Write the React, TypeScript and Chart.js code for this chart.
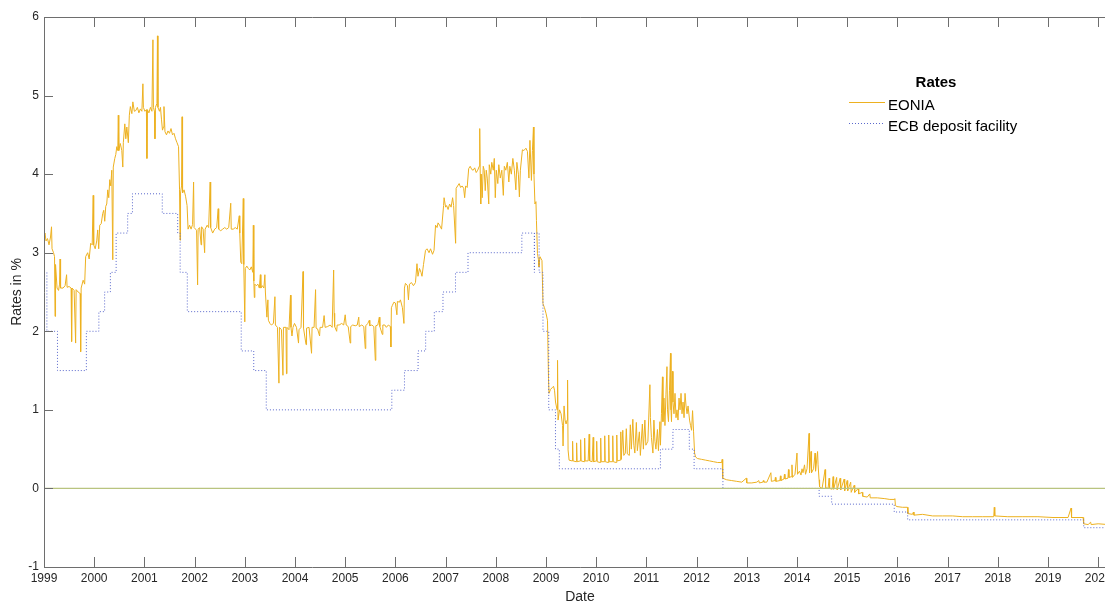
import React, { useEffect, useRef } from "react";
import { Chart, registerables } from "chart.js";

Chart.register(...registerables);

// ---------- data ----------
const yearTicks = [1999, 2000, 2001, 2002, 2003, 2004, 2005, 2006, 2007, 2008, 2009, 2010, 2011, 2012, 2013, 2014, 2015, 2016, 2017, 2018, 2019, 2020];
const rateTicks = [-1, 0, 1, 2, 3, 4, 5, 6];
const X_MIN = 1999;
const X_MAX = 2020.355;

const ecbDates = [
  "1999-01-01", "1999-01-22", "1999-04-09", "1999-11-05", "2000-02-04", "2000-03-17", "2000-04-28",
  "2000-06-09", "2000-09-01", "2000-10-06", "2001-05-11", "2001-08-31", "2001-09-18", "2001-11-09",
  "2002-12-06", "2003-03-07", "2003-06-06", "2005-12-06", "2006-03-08", "2006-06-15", "2006-08-09",
  "2006-10-11", "2006-12-13", "2007-03-14", "2007-06-13", "2008-07-09", "2008-10-08", "2008-10-09",
  "2008-11-12", "2008-12-10", "2009-01-21", "2009-03-11", "2009-04-08", "2011-04-13", "2011-07-13",
  "2011-11-09", "2011-12-14", "2012-07-11", "2014-06-11", "2014-09-10", "2015-12-09", "2016-03-16",
  "2019-09-18", "2020-05-10",
];
const ecbValues = [
  2.75, 2.0, 1.5, 2.0, 2.25, 2.5, 2.75,
  3.25, 3.5, 3.75, 3.5, 3.25, 2.75, 2.25,
  1.75, 1.5, 1.0, 1.25, 1.5, 1.75, 2.0,
  2.25, 2.5, 2.75, 3.0, 3.25, 2.75, 3.25,
  2.75, 2.0, 1.0, 0.5, 0.25, 0.5, 0.75,
  0.5, 0.25, 0.0, -0.1, -0.2, -0.3, -0.4,
  -0.5, -0.5,
];

// EONIA: [decimal year, rate in %]
const eoniaSeries: [number, number][] = [
  [1999.00, 3.20], [1999.02, 3.25], [1999.04, 3.15], [1999.07, 3.18], [1999.10, 3.10], [1999.13, 3.20],
  [1999.15, 3.33], [1999.16, 3.05], [1999.19, 3.00], [1999.21, 2.95], [1999.22, 2.19], [1999.23, 2.85],
  [1999.26, 2.55], [1999.29, 2.52], [1999.31, 2.60], [1999.32, 2.92], [1999.33, 2.55], [1999.38, 2.55],
  [1999.42, 2.58], [1999.45, 2.72], [1999.46, 2.56], [1999.50, 2.57], [1999.54, 2.55], [1999.55, 1.87],
  [1999.56, 2.55], [1999.60, 2.52], [1999.63, 1.85], [1999.64, 2.53], [1999.68, 2.50], [1999.72, 2.48],
  [1999.73, 1.74], [1999.74, 2.55], [1999.78, 2.65], [1999.81, 2.60], [1999.83, 2.95], [1999.87, 3.00],
  [1999.90, 2.92], [1999.93, 3.12], [1999.96, 3.10], [1999.98, 3.73], [1999.99, 3.10],
  [2000.02, 3.05], [2000.05, 3.15], [2000.07, 3.29], [2000.09, 3.05], [2000.11, 3.35], [2000.14, 3.37],
  [2000.17, 3.50], [2000.19, 3.54], [2000.21, 3.40], [2000.23, 3.59], [2000.25, 3.62], [2000.27, 3.80],
  [2000.29, 3.70], [2000.31, 3.93], [2000.33, 3.85], [2000.35, 4.05], [2000.37, 2.91], [2000.38, 4.09],
  [2000.41, 4.20], [2000.43, 4.25], [2000.45, 4.35], [2000.47, 4.30], [2000.48, 4.75], [2000.49, 4.30],
  [2000.52, 4.39], [2000.55, 4.30], [2000.57, 4.09], [2000.58, 4.40], [2000.61, 4.64], [2000.63, 4.45],
  [2000.65, 4.60], [2000.68, 4.40], [2000.70, 4.75], [2000.72, 4.86], [2000.75, 4.77], [2000.77, 4.92],
  [2000.80, 4.80], [2000.83, 4.81], [2000.86, 4.85], [2000.89, 4.78], [2000.92, 4.83], [2000.95, 4.80],
  [2000.97, 5.15], [2000.98, 4.85],
  [2001.01, 4.80], [2001.04, 4.82], [2001.05, 4.20], [2001.06, 4.82], [2001.09, 4.78], [2001.12, 4.85],
  [2001.15, 4.80], [2001.17, 5.71], [2001.18, 4.85], [2001.20, 4.80], [2001.21, 4.45], [2001.22, 4.85],
  [2001.25, 4.90], [2001.26, 5.76], [2001.27, 4.85], [2001.30, 4.80], [2001.32, 4.85], [2001.34, 4.70],
  [2001.36, 4.56], [2001.38, 4.60], [2001.39, 4.86], [2001.41, 4.54], [2001.44, 4.50], [2001.47, 4.55],
  [2001.50, 4.52], [2001.53, 4.58], [2001.56, 4.50], [2001.59, 4.52], [2001.62, 4.45], [2001.65, 4.40],
  [2001.68, 4.35], [2001.70, 3.80], [2001.71, 3.16], [2001.72, 3.76], [2001.74, 3.85], [2001.75, 4.73],
  [2001.76, 3.76], [2001.79, 3.80], [2001.82, 3.72], [2001.85, 3.60], [2001.87, 3.30], [2001.90, 3.35],
  [2001.93, 3.30], [2001.96, 3.36], [2001.98, 3.90], [2001.99, 3.32],
  [2002.02, 3.30], [2002.04, 3.28], [2002.06, 2.59], [2002.07, 3.30], [2002.10, 3.32], [2002.13, 3.10],
  [2002.14, 3.33], [2002.17, 3.30], [2002.20, 3.00], [2002.21, 3.30], [2002.25, 3.35], [2002.28, 3.32],
  [2002.31, 3.90], [2002.32, 3.32], [2002.36, 3.25], [2002.40, 3.30], [2002.44, 3.32], [2002.47, 3.56],
  [2002.48, 3.30], [2002.52, 3.28], [2002.56, 3.30], [2002.60, 3.32], [2002.64, 3.30], [2002.68, 3.32],
  [2002.72, 3.63], [2002.73, 3.30], [2002.77, 3.30], [2002.81, 3.32], [2002.85, 3.30], [2002.89, 3.47],
  [2002.90, 3.25], [2002.92, 2.88], [2002.94, 2.86], [2002.97, 3.69], [2002.98, 2.85],
  [2003.00, 2.12], [2003.01, 2.80], [2003.04, 2.83], [2003.07, 2.80], [2003.10, 2.78], [2003.13, 2.82],
  [2003.16, 2.75], [2003.17, 3.35], [2003.18, 2.64], [2003.19, 2.43], [2003.20, 2.60], [2003.23, 2.58],
  [2003.26, 2.60], [2003.29, 2.55], [2003.31, 2.72], [2003.32, 2.55], [2003.35, 2.58], [2003.38, 2.55],
  [2003.40, 2.72], [2003.41, 2.50], [2003.44, 2.18], [2003.46, 2.40], [2003.47, 2.14], [2003.50, 2.10],
  [2003.53, 2.08], [2003.57, 2.10], [2003.60, 2.44], [2003.61, 2.08], [2003.65, 2.05], [2003.68, 1.34],
  [2003.69, 2.05], [2003.73, 2.02], [2003.76, 1.44], [2003.77, 2.05], [2003.82, 2.05], [2003.83, 1.46],
  [2003.84, 2.05], [2003.88, 2.02], [2003.91, 2.46], [2003.92, 2.05], [2003.94, 1.94], [2003.96, 2.05],
  [2003.99, 2.10],
  [2004.03, 2.05], [2004.07, 1.85], [2004.08, 2.02], [2004.12, 2.05], [2004.16, 2.76], [2004.17, 2.04],
  [2004.22, 1.83], [2004.23, 2.04], [2004.28, 2.05], [2004.33, 1.72], [2004.34, 2.05], [2004.38, 2.05],
  [2004.41, 2.53], [2004.42, 2.04], [2004.45, 2.03], [2004.49, 1.94], [2004.50, 2.05], [2004.55, 2.05],
  [2004.58, 2.20], [2004.60, 2.05], [2004.65, 2.06], [2004.70, 2.08], [2004.74, 2.05], [2004.77, 2.78],
  [2004.78, 2.23], [2004.79, 2.06], [2004.83, 2.00], [2004.84, 2.08], [2004.88, 2.08], [2004.93, 2.10],
  [2004.97, 2.08], [2005.00, 2.21],
  [2005.02, 2.08], [2005.06, 2.06], [2005.10, 1.85], [2005.11, 2.06], [2005.15, 2.08], [2005.20, 2.07],
  [2005.24, 2.08], [2005.27, 2.18], [2005.28, 2.06], [2005.33, 2.08], [2005.37, 2.06], [2005.40, 1.78],
  [2005.41, 2.07], [2005.45, 2.10], [2005.48, 2.14], [2005.49, 2.07], [2005.53, 2.08], [2005.57, 2.06],
  [2005.60, 1.63], [2005.61, 2.07], [2005.65, 2.08], [2005.68, 2.18], [2005.69, 2.06], [2005.74, 1.96],
  [2005.75, 2.08], [2005.79, 2.08], [2005.82, 2.05], [2005.86, 2.08], [2005.90, 2.06], [2005.91, 1.80],
  [2005.92, 2.30], [2005.94, 2.33], [2005.97, 2.37],
  [2006.00, 2.36], [2006.03, 2.21], [2006.04, 2.38], [2006.08, 2.37], [2006.10, 2.40], [2006.14, 2.30],
  [2006.17, 2.10], [2006.18, 2.55], [2006.20, 2.61], [2006.24, 2.58], [2006.26, 2.40], [2006.28, 2.60],
  [2006.32, 2.62], [2006.36, 2.58], [2006.40, 2.62], [2006.43, 2.86], [2006.45, 2.70], [2006.48, 2.80],
  [2006.51, 2.75], [2006.53, 2.70], [2006.56, 2.85], [2006.60, 3.03], [2006.63, 3.05], [2006.67, 3.00],
  [2006.70, 3.05], [2006.74, 2.98], [2006.77, 3.03], [2006.80, 3.35], [2006.83, 3.32], [2006.85, 3.38],
  [2006.88, 3.35], [2006.92, 3.30], [2006.96, 3.60], [2006.97, 3.70],
  [2007.00, 3.58], [2007.02, 3.60], [2007.05, 3.55], [2007.08, 3.62], [2007.11, 3.58], [2007.14, 3.70],
  [2007.16, 3.60], [2007.20, 3.12], [2007.21, 3.82], [2007.24, 3.85], [2007.27, 3.88], [2007.30, 3.83],
  [2007.33, 3.85], [2007.36, 3.82], [2007.38, 3.70], [2007.40, 3.85], [2007.43, 3.83], [2007.46, 4.07],
  [2007.49, 4.10], [2007.52, 4.06], [2007.55, 4.05], [2007.58, 4.08], [2007.61, 4.02], [2007.64, 4.05],
  [2007.67, 4.10], [2007.68, 4.58], [2007.69, 4.00], [2007.70, 3.62], [2007.71, 4.00], [2007.73, 3.70],
  [2007.75, 4.10], [2007.77, 4.05], [2007.79, 3.79], [2007.81, 4.05], [2007.83, 3.95], [2007.86, 3.62],
  [2007.87, 4.12], [2007.90, 4.00], [2007.92, 4.15], [2007.95, 4.05], [2007.97, 4.20], [2007.99, 3.70],
  [2008.01, 4.05], [2008.04, 3.88], [2008.06, 4.12], [2008.09, 3.95], [2008.12, 4.05], [2008.15, 3.73],
  [2008.17, 4.10], [2008.20, 4.05], [2008.23, 4.15], [2008.26, 3.90], [2008.28, 4.10], [2008.31, 4.00],
  [2008.34, 4.20], [2008.37, 4.05], [2008.40, 3.80], [2008.42, 4.15], [2008.45, 4.00], [2008.47, 3.71],
  [2008.49, 4.05], [2008.53, 4.31], [2008.56, 4.30], [2008.60, 4.33], [2008.63, 4.29], [2008.66, 3.95],
  [2008.68, 4.43], [2008.71, 3.92], [2008.73, 4.30], [2008.75, 4.60], [2008.76, 4.00], [2008.78, 3.62],
  [2008.80, 3.65], [2008.81, 3.41], [2008.83, 2.99], [2008.85, 2.91], [2008.86, 2.82], [2008.88, 2.95],
  [2008.92, 2.90], [2008.94, 2.35], [2008.97, 2.30],
  [2009.00, 2.23], [2009.03, 2.14], [2009.05, 1.40], [2009.06, 1.21], [2009.09, 1.26], [2009.12, 1.28],
  [2009.15, 1.30], [2009.17, 1.25], [2009.19, 1.10], [2009.22, 1.00], [2009.23, 1.63], [2009.24, 0.87],
  [2009.27, 1.00], [2009.30, 0.95], [2009.33, 0.80], [2009.34, 0.54], [2009.36, 1.05], [2009.38, 0.87],
  [2009.40, 0.82], [2009.42, 0.87], [2009.43, 1.38], [2009.44, 0.49], [2009.46, 0.36],
  [2009.52, 0.35], [2009.53, 0.60], [2009.54, 0.35], [2009.60, 0.34], [2009.61, 0.58], [2009.62, 0.34],
  [2009.68, 0.35], [2009.69, 0.62], [2009.70, 0.35], [2009.76, 0.34], [2009.77, 0.64], [2009.78, 0.35],
  [2009.84, 0.35], [2009.86, 0.69], [2009.87, 0.35], [2009.92, 0.34], [2009.94, 0.65], [2009.95, 0.34],
  [2010.00, 0.35], [2010.01, 0.60], [2010.02, 0.34], [2010.08, 0.33], [2010.09, 0.64], [2010.10, 0.34],
  [2010.16, 0.34], [2010.17, 0.67], [2010.18, 0.34], [2010.24, 0.33], [2010.25, 0.68], [2010.26, 0.34],
  [2010.32, 0.34], [2010.33, 0.67], [2010.34, 0.34], [2010.40, 0.33], [2010.41, 0.68], [2010.42, 0.35],
  [2010.48, 0.36], [2010.49, 0.72], [2010.50, 0.37], [2010.53, 0.74], [2010.55, 0.42], [2010.58, 0.45],
  [2010.60, 0.76], [2010.62, 0.44], [2010.66, 0.42], [2010.68, 0.81], [2010.70, 0.50], [2010.73, 0.88],
  [2010.75, 0.55], [2010.77, 0.45], [2010.80, 0.84], [2010.82, 0.48], [2010.86, 0.72], [2010.88, 0.42],
  [2010.92, 0.82], [2010.94, 0.50], [2010.97, 0.87], [2010.99, 0.55],
  [2011.03, 0.60], [2011.07, 1.32], [2011.08, 0.90], [2011.10, 0.65], [2011.13, 0.45], [2011.15, 0.87],
  [2011.17, 0.60], [2011.19, 0.50], [2011.22, 0.75], [2011.24, 0.48], [2011.27, 0.85], [2011.28, 0.55],
  [2011.30, 0.95], [2011.32, 1.42], [2011.33, 0.85], [2011.35, 1.15], [2011.37, 0.80], [2011.39, 1.20],
  [2011.41, 1.55], [2011.42, 1.00], [2011.44, 0.85], [2011.46, 1.25], [2011.48, 1.72], [2011.49, 1.00],
  [2011.50, 0.85], [2011.52, 1.49], [2011.53, 1.10], [2011.55, 0.95], [2011.57, 1.21], [2011.59, 0.90],
  [2011.61, 1.00], [2011.63, 0.87], [2011.65, 1.15], [2011.67, 1.00], [2011.69, 1.21], [2011.71, 0.95],
  [2011.73, 1.10], [2011.75, 0.90], [2011.77, 1.21], [2011.79, 1.05], [2011.81, 0.95], [2011.83, 1.05],
  [2011.86, 0.87], [2011.88, 0.80], [2011.90, 0.74], [2011.92, 0.99], [2011.94, 0.72], [2011.96, 0.45],
  [2011.98, 0.40],
  [2012.02, 0.38], [2012.10, 0.37], [2012.18, 0.36], [2012.26, 0.35], [2012.34, 0.34], [2012.42, 0.33],
  [2012.50, 0.33], [2012.51, 0.37], [2012.52, 0.13], [2012.60, 0.11], [2012.70, 0.10], [2012.80, 0.09],
  [2012.90, 0.08], [2012.99, 0.13],
  [2013.00, 0.07], [2013.10, 0.07], [2013.20, 0.08], [2013.24, 0.10], [2013.25, 0.07], [2013.32, 0.08],
  [2013.33, 0.10], [2013.34, 0.08], [2013.40, 0.08], [2013.48, 0.20], [2013.49, 0.09], [2013.56, 0.10],
  [2013.57, 0.14], [2013.58, 0.09], [2013.66, 0.10], [2013.67, 0.16], [2013.68, 0.10], [2013.74, 0.12],
  [2013.75, 0.18], [2013.76, 0.12], [2013.82, 0.13], [2013.83, 0.24], [2013.84, 0.14], [2013.89, 0.15],
  [2013.90, 0.30], [2013.91, 0.14], [2013.96, 0.18],
  [2014.00, 0.45], [2014.01, 0.18], [2014.05, 0.22], [2014.08, 0.17], [2014.10, 0.25], [2014.12, 0.20],
  [2014.15, 0.30], [2014.17, 0.18], [2014.20, 0.25], [2014.24, 0.70], [2014.25, 0.20], [2014.28, 0.47],
  [2014.29, 0.20], [2014.33, 0.25], [2014.36, 0.45], [2014.37, 0.22], [2014.41, 0.47], [2014.42, 0.30],
  [2014.44, 0.11], [2014.45, 0.02], [2014.50, 0.00], [2014.56, 0.24], [2014.57, 0.01], [2014.62, 0.00],
  [2014.64, 0.13], [2014.65, 0.00], [2014.70, -0.01], [2014.72, 0.15], [2014.73, -0.01], [2014.79, 0.14],
  [2014.80, -0.02], [2014.86, 0.13], [2014.87, -0.02], [2014.94, 0.12], [2014.95, -0.03],
  [2015.00, 0.10], [2015.01, -0.03], [2015.07, 0.08], [2015.08, -0.05], [2015.14, 0.04], [2015.15, -0.05],
  [2015.22, 0.00], [2015.23, -0.07], [2015.30, -0.05], [2015.31, -0.10], [2015.40, -0.11], [2015.45, -0.07],
  [2015.46, -0.12], [2015.60, -0.12], [2015.75, -0.13], [2015.85, -0.14], [2015.94, -0.14], [2015.95, -0.13],
  [2015.96, -0.21], [2015.98, -0.23],
  [2016.10, -0.24], [2016.20, -0.24], [2016.21, -0.32], [2016.30, -0.33], [2016.32, -0.30], [2016.33, -0.34],
  [2016.50, -0.33], [2016.70, -0.35], [2016.90, -0.35], [2017.10, -0.35], [2017.30, -0.36], [2017.50, -0.36],
  [2017.70, -0.36], [2017.92, -0.36], [2017.93, -0.24], [2017.94, -0.35], [2018.20, -0.36], [2018.50, -0.36],
  [2018.80, -0.36], [2019.10, -0.37], [2019.40, -0.37], [2019.46, -0.25], [2019.47, -0.37], [2019.70, -0.37],
  [2019.71, -0.45], [2019.80, -0.46], [2019.85, -0.43], [2019.86, -0.46], [2020.00, -0.45], [2020.20, -0.46],
  [2020.36, -0.46],
];

const zeroLine = [0, 0];

// ---------- styling ----------
const FONT = "'Liberation Sans', Arial, Helvetica, sans-serif";
const EONIA_COLOR = "#EDB120";
const ECB_COLOR = "#5a68cc";
const ZERO_COLOR = "#b9c47f";
const AXIS_COLOR = "#6e6e6e";
const TEXT_COLOR = "#262626";

function toYear(s: string): number {
  const d = new Date(s + "T00:00:00Z");
  const y = d.getUTCFullYear();
  const start = Date.UTC(y, 0, 1);
  const end = Date.UTC(y + 1, 0, 1);
  return y + (d.getTime() - start) / (end - start);
}

const framePlugin = {
  id: "matlabFrame",
  afterDatasetsDraw(chart: any) {
    const { ctx, chartArea, scales } = chart;
    const { left, right, top, bottom } = chartArea;
    const x = scales.x;
    const y = scales.y;
    ctx.save();
    ctx.strokeStyle = AXIS_COLOR;
    ctx.lineWidth = 1;
    ctx.beginPath();
    ctx.moveTo(left + 0.5, top + 0.5);
    ctx.lineTo(right, top + 0.5);
    ctx.moveTo(left + 0.5, top);
    ctx.lineTo(left + 0.5, bottom + 0.5);
    ctx.lineTo(right, bottom + 0.5);
    const tl = 10;
    yearTicks.forEach((v) => {
      const px = Math.round(x.getPixelForValue(v)) + 0.5;
      if (px < left || px > right) return;
      ctx.moveTo(px, bottom);
      ctx.lineTo(px, bottom - tl);
      ctx.moveTo(px, top);
      ctx.lineTo(px, top + tl);
    });
    rateTicks.forEach((v) => {
      const py = Math.round(y.getPixelForValue(v)) + 0.5;
      ctx.moveTo(left, py);
      ctx.lineTo(left + 9, py);
    });
    ctx.stroke();
    ctx.restore();
  },
  afterDraw(chart: any) {
    const { ctx } = chart;
    ctx.save();
    ctx.fillStyle = "#000";
    ctx.textBaseline = "alphabetic";
    ctx.font = `bold 15px ${FONT}`;
    ctx.textAlign = "center";
    ctx.fillText("Rates", 936, 86.5);
    ctx.textAlign = "left";
    ctx.font = `15px ${FONT}`;
    ctx.fillText("EONIA", 888, 109.5);
    ctx.fillText("ECB deposit facility", 888, 130.5);
    ctx.lineWidth = 1;
    ctx.strokeStyle = EONIA_COLOR;
    ctx.beginPath();
    ctx.moveTo(849, 102.5);
    ctx.lineTo(885, 102.5);
    ctx.stroke();
    ctx.strokeStyle = ECB_COLOR;
    ctx.setLineDash([1, 2]);
    ctx.beginPath();
    ctx.moveTo(849, 123.5);
    ctx.lineTo(885, 123.5);
    ctx.stroke();
    ctx.restore();
  },
};

export default function App() {
  const canvasRef = useRef<HTMLCanvasElement | null>(null);

  useEffect(() => {
    if (!canvasRef.current) return;
    const ecbPoints = ecbDates.map((d, i) => ({ x: toYear(d), y: ecbValues[i] }));
    ecbPoints[ecbPoints.length - 1].x = X_MAX;
    const eoniaPoints = eoniaSeries.map(([x, y]) => ({ x, y }));
    const zeroPoints = [
      { x: X_MIN, y: zeroLine[0] },
      { x: X_MAX, y: zeroLine[1] },
    ];

    const chart = new Chart(canvasRef.current, {
      type: "line",
      data: {
        datasets: [
          {
            label: "zero",
            data: zeroPoints,
            borderColor: ZERO_COLOR,
            borderWidth: 1.3,
            pointRadius: 0,
          },
          {
            label: "ECB deposit facility",
            data: ecbPoints,
            borderColor: ECB_COLOR,
            borderWidth: 1,
            borderDash: [1, 2],
            stepped: true,
            pointRadius: 0,
          },
          {
            label: "EONIA",
            data: eoniaPoints,
            borderColor: EONIA_COLOR,
            borderWidth: 1,
            pointRadius: 0,
            tension: 0,
          },
        ],
      },
      options: {
        animation: false,
        responsive: false,
        maintainAspectRatio: false,
        events: [],
        layout: { padding: { top: 17, left: 0, right: 0, bottom: 0 } },
        plugins: {
          legend: { display: false },
          tooltip: { enabled: false },
        },
        scales: {
          x: {
            type: "linear",
            min: X_MIN,
            max: X_MAX,
            grid: { display: false, drawTicks: false },
            border: { display: false },
            afterBuildTicks: (scale: any) => {
              scale.ticks = yearTicks.map((v) => ({ value: v }));
            },
            afterFit: (scale: any) => {
              scale.height = 34;
              scale.paddingLeft = 0;
              scale.paddingRight = 0;
            },
            ticks: {
              autoSkip: false,
              maxRotation: 0,
              padding: 4,
              color: TEXT_COLOR,
              font: { family: FONT, size: 12 },
              callback: (v: any) => String(v),
            },
            title: {
              display: true,
              text: "Date",
              color: TEXT_COLOR,
              padding: 0,
              font: { family: FONT, size: 14, lineHeight: 0.55 },
            },
          },
          y: {
            type: "linear",
            min: -1,
            max: 6,
            grid: { display: false, drawTicks: false },
            border: { display: false },
            afterFit: (scale: any) => {
              scale.width = 44;
              scale.paddingTop = 0;
              scale.paddingBottom = 0;
            },
            ticks: {
              stepSize: 1,
              padding: 5,
              color: TEXT_COLOR,
              font: { family: FONT, size: 12 },
              callback: (v: any) => String(v),
            },
            title: {
              display: true,
              text: "Rates in %",
              color: TEXT_COLOR,
              padding: { top: 9, bottom: 0 },
              font: { family: FONT, size: 14 },
            },
          },
        },
      } as any,
      plugins: [framePlugin],
    });
    return () => chart.destroy();
  }, []);

  return (
    <div
      style={{
        position: "absolute",
        left: 0,
        top: 0,
        width: 1105,
        height: 601,
        overflow: "hidden",
        background: "#fff",
      }}
    >
      <canvas ref={canvasRef} width={1116} height={601} style={{ display: "block" }} />
    </div>
  );
}
